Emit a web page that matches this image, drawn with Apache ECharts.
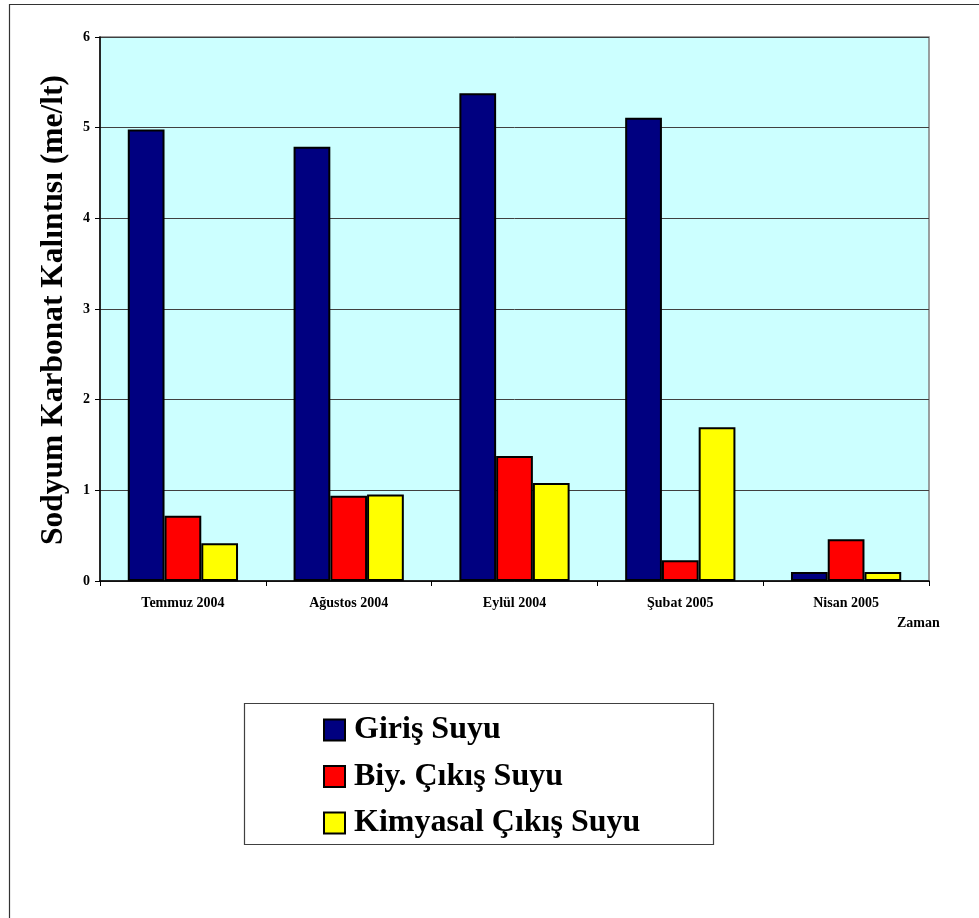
<!DOCTYPE html>
<html>
<head>
<meta charset="utf-8">
<script src="https://cdn.jsdelivr.net/npm/echarts@6/dist/echarts.min.js"></script>
<style>
  html, body { margin: 0; padding: 0; background: #fff; }
  #chart { width: 979px; height: 918px; }
</style>
</head>
<body>
<div id="chart"></div>
<script>
// Sampling months
const categories = ['Temmuz 2004', 'Ağustos 2004', 'Eylül 2004', 'Şubat 2005', 'Nisan 2005'];

// Residual sodium carbonate (me/lt) per water type
const girisSuyu = [4.98, 4.79, 5.38, 5.11, 0.10];
const biyCikisSuyu = [0.72, 0.94, 1.38, 0.23, 0.46];
const kimyasalCikisSuyu = [0.415, 0.955, 1.08, 1.695, 0.10];

const seriesNames = ['Giriş Suyu', 'Biy. Çıkış Suyu', 'Kimyasal Çıkış Suyu'];
const seriesColors = ['#000080', '#FF0000', '#FFFF00'];
const seriesValues = [girisSuyu, biyCikisSuyu, kimyasalCikisSuyu];

const yAxisTitle = 'Sodyum Karbonat Kalıntısı (me/lt)';
const xAxisTitle = 'Zaman';

const serif = '"Liberation Serif", "Times New Roman", serif';

const chart = echarts.init(document.getElementById('chart'), null, { renderer: 'canvas' });

const option = {
  animation: false,
  backgroundColor: '#ffffff',
  grid: {
    left: 100, top: 37, width: 829, height: 544,
    show: true,
    backgroundColor: '#CCFFFF',
    borderColor: '#808080',
    borderWidth: 1.5
  },
  legend: {
    orient: 'vertical',
    left: 323,
    top: 714,
    padding: 0,
    itemWidth: 21,
    itemHeight: 21,
    itemGap: 14.5,
    icon: 'rect',
    itemStyle: { borderColor: '#000', borderWidth: 2 },
    textStyle: {
      fontFamily: serif, fontWeight: 'bold', fontSize: 32, color: '#000',
      lineHeight: 32, padding: [0, 0, 0, 4]
    },
    data: seriesNames
  },
  xAxis: {
    type: 'category',
    data: categories,
    axisLine: { lineStyle: { color: '#000', width: 1.5 } },
    axisTick: { show: true, length: 5, lineStyle: { color: '#000' } },
    axisLabel: {
      margin: 15,
      fontFamily: serif, fontWeight: 'bold', fontSize: 14, color: '#000'
    }
  },
  yAxis: {
    type: 'value',
    min: 0, max: 6, interval: 1,
    axisLine: { show: true, lineStyle: { color: '#000', width: 1.5 } },
    axisTick: { show: true, length: 5, lineStyle: { color: '#000' } },
    axisLabel: {
      margin: 10,
      fontFamily: serif, fontWeight: 'bold', fontSize: 14, color: '#000'
    },
    splitLine: { show: true, lineStyle: { color: '#404040', width: 1 } }
  },
  series: seriesNames.map((name, i) => ({
    name: name,
    type: 'bar',
    data: seriesValues[i],
    barGap: '0%',
    barCategoryGap: '33.5%',
    itemStyle: { color: seriesColors[i], borderColor: '#000', borderWidth: 2 }
  })),
  graphic: [
    // outer frame (left and top edges visible)
    {
      type: 'rect', silent: true, z: 100,
      shape: { x: 9.5, y: 4.5, width: 1200, height: 1200 },
      style: { fill: 'none', stroke: '#333', lineWidth: 1.2 }
    },
    // legend box
    {
      type: 'rect', silent: true, z: -1,
      shape: { x: 244.5, y: 703.5, width: 469, height: 141 },
      style: { fill: '#fff', stroke: '#404040', lineWidth: 1.2 }
    },
    // y axis title
    {
      type: 'text', silent: true,
      x: 54, y: 310, rotation: Math.PI / 2,
      style: {
        text: yAxisTitle,
        font: 'bold 31.5px ' + serif,
        fill: '#000',
        align: 'center', verticalAlign: 'middle'
      }
    },
    // x axis title
    {
      type: 'text', silent: true,
      x: 897, y: 623,
      style: {
        text: xAxisTitle,
        font: 'bold 14px ' + serif,
        fill: '#000',
        align: 'left', verticalAlign: 'middle'
      }
    }
  ]
};

chart.setOption(option);
</script>
</body>
</html>
